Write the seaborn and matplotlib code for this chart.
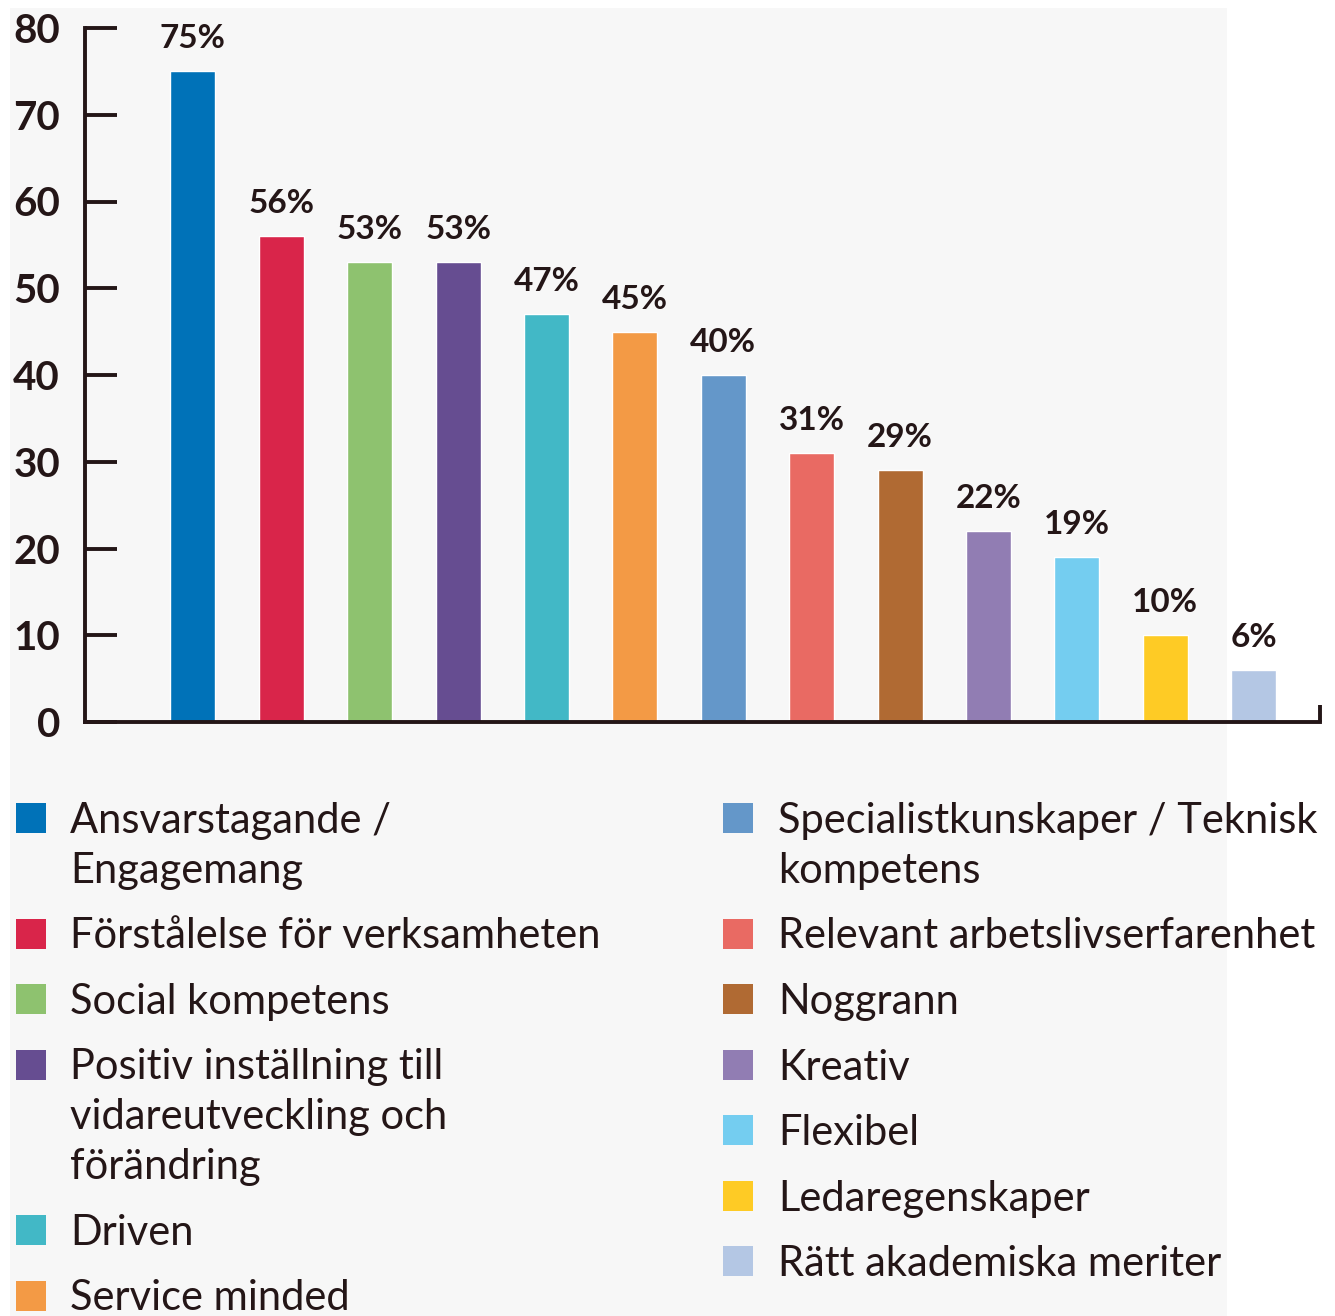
import matplotlib
matplotlib.use("Agg")
import matplotlib.pyplot as plt
import seaborn as sns
import pandas as pd
from matplotlib.patches import Rectangle

categories = [
    "Ansvarstagande /\nEngagemang",
    "Förstålelse för verksamheten",
    "Social kompetens",
    "Positiv inställning till\nvidareutveckling och\nförändring",
    "Driven",
    "Service minded",
    "Specialistkunskaper / Teknisk\nkompetens",
    "Relevant arbetslivserfarenhet",
    "Noggrann",
    "Kreativ",
    "Flexibel",
    "Ledaregenskaper",
    "Rätt akademiska meriter",
]
values = [75, 56, 53, 53, 47, 45, 40, 31, 29, 22, 19, 10, 6]
colors = ["#0072b8", "#d9254a", "#8ec26f", "#664d91", "#42b8c6", "#f39a45",
          "#6497c9", "#e96a63", "#b06a33", "#917db3", "#74cdf0", "#fecb25", "#b4c7e4"]
yticks = [0, 10, 20, 30, 40, 50, 60, 70, 80]

INK = "#241617"
W, H = 1335, 1316

sns.set_theme(style="white")
plt.rcParams["font.family"] = ["Lato", "DejaVu Sans"]

fig = plt.figure(figsize=(W / 100, H / 100), dpi=100, facecolor="white")
fig.patches.append(Rectangle((10 / W, 0), (1227 - 10) / W, (H - 8) / H,
                             transform=fig.transFigure, facecolor="#f7f7f7",
                             edgecolor="none", zorder=-10))

ax = fig.add_axes([85 / W, 1 - 722 / H, (1320 - 85) / W, (722 - 28) / H])
ax.set_facecolor("none")

df = pd.DataFrame({"cat": categories, "val": values})
sns.barplot(data=df, x="cat", y="val", hue="cat", palette=colors, width=0.51,
            saturation=1, legend=False, ax=ax, dodge=False)

for c in ax.containers:
    ax.bar_label(c, fmt="%d%%", padding=13, fontsize=24, fontweight="bold",
                 color=INK)

xmin, xmax = -1.22, 12.75
ax.set_xlim(xmin, xmax)
ax.set_ylim(0, 80)
ax.set_yticks(yticks)
ax.set_yticklabels([str(t) for t in yticks], fontsize=29, fontweight="bold",
                   color=INK)
ax.set_xticks([xmax])
ax.set_xticklabels([""])
ax.tick_params(axis="y", direction="in", length=23, width=2.8, color=INK,
               pad=18, left=True)
ax.tick_params(axis="x", direction="in", length=12, width=2.8, color=INK,
               bottom=True)
ax.set_xlabel("")
ax.set_ylabel("")
for s in ["top", "right"]:
    ax.spines[s].set_visible(False)
for s in ["left", "bottom"]:
    ax.spines[s].set_color(INK)
    ax.spines[s].set_linewidth(2.8)

# Legend drawn manually in two columns
cols = [(16, 70, range(0, 6)), (723, 778, range(6, 13))]
for sq_x, tx_x, idxs in cols:
    base = 833
    for i in idxs:
        lines = categories[i].split("\n")
        fig.patches.append(Rectangle((sq_x / W, 1 - base / H), 30 / W, 30 / H,
                                     transform=fig.transFigure,
                                     facecolor=colors[i], edgecolor="none"))
        for k, ln in enumerate(lines):
            fig.text(tx_x / W, 1 - (base + 50 * k) / H, ln, fontsize=30,
                     fontweight="normal", color=INK, ha="left", va="baseline")
        base += 65.5 + 50 * (len(lines) - 1)

fig.savefig("out.png", dpi=100, facecolor="white")
